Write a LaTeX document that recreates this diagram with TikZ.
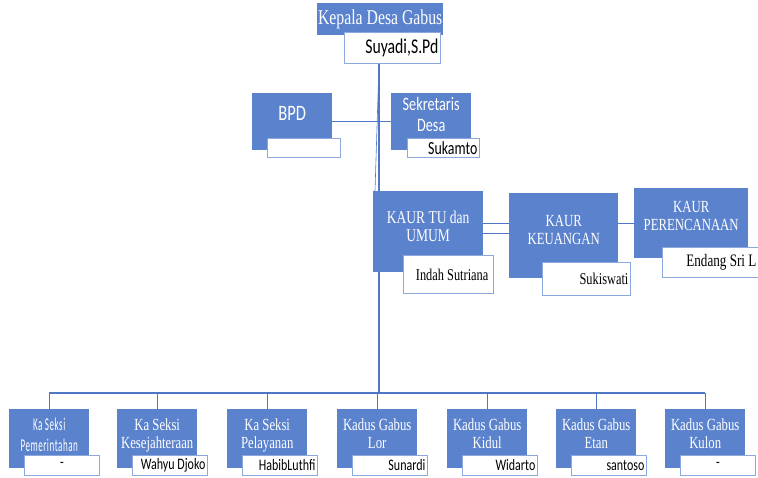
\documentclass[tikz,border=0pt]{standalone}
\usepackage{fontspec}
\newfontfamily\sansc[FakeStretch=0.75]{Carlito}
\newfontfamily\sansn[FakeStretch=0.5, LetterSpace=3]{Carlito}
\newfontfamily\serifc[FakeStretch=0.75]{Liberation Serif}
\definecolor{unitblue}{RGB}{90,130,205}
\definecolor{lineblue}{RGB}{80,118,198}
\definecolor{boxline}{RGB}{140,168,220}
\newcommand\tight{\lineskiplimit=-20pt\lineskip=0pt}
\newcommand\unitserif{\serifc\fontsize{17}{18}\selectfont\tight}
\newcommand\unitnarrow{\sansn\fontsize{18}{21}\selectfont\tight}
\newcommand\namesans{\sansc\fontsize{16}{19}\selectfont}
\newcommand\nameserif{\serifc\fontsize{16.5}{19}\selectfont}

\tikzset{
  unit/.style={fill=unitblue, text=white, inner sep=0pt, anchor=north west, align=center},
  namebox/.style={draw=boxline, fill=white, line width=0.8pt, inner xsep=2pt, inner ysep=0pt, anchor=north west, align=flush right},
  link/.style={draw=lineblue, line width=1.2pt}
}

\begin{document}
\begin{tikzpicture}[x=1pt, y=-1pt]
\useasboundingbox (0,0) rectangle (758,477);

% kepala desa
\node[unit, minimum width=126pt, minimum height=32pt, font=\serifc\fontsize{21}{24}\selectfont] (kades) at (317,3) {Kepala Desa Gabus};
\node[namebox, text width=92pt, minimum height=31pt, font=\sansc\fontsize{21}{24}\selectfont] (suyadi) at (344,32) {Suyadi,S.Pd};

% bpd and sekretaris
\node[unit, minimum width=80pt, minimum height=57pt, text depth=16pt, font=\sansc\fontsize{22}{24}\selectfont] (bpd) at (252,93) {BPD};
\node[namebox, text width=69pt, minimum height=19pt] (bpdname) at (267,138) {};
\node[unit, minimum width=80pt, minimum height=57pt, text depth=14pt, font=\sansc\fontsize{19}{21}\selectfont\tight] (sekr) at (391,93) {Sekretaris\\Desa};
\node[namebox, text width=68pt, minimum height=19pt, font=\sansc\fontsize{18.5}{20}\selectfont] (sekrname) at (407,138) {Sukamto};

% kaur
\node[unit, minimum width=110pt, minimum height=81pt, text depth=11pt, font=\serifc\fontsize{18}{18}\selectfont\tight] (kaurtu) at (373,191) {KAUR TU dan\\UMUM};
\node[namebox, text width=80pt, inner xsep=5pt, minimum height=38pt, font=\nameserif] (tuname) at (403,255) {Indah Sutriana};
\node[unit, minimum width=109pt, minimum height=85pt, text depth=11pt, font=\unitserif] (keu) at (509,193) {KAUR\\KEUANGAN};
\node[namebox, text width=84pt, minimum height=33pt, font=\nameserif] (keuname) at (542,262) {Sukiswati};
\node[unit, minimum width=114pt, minimum height=70pt, text depth=15pt, font=\unitserif] (peren) at (634,188) {KAUR\\PERENCANAAN};
\node[namebox, text width=92pt, minimum height=30pt, font=\serifc\fontsize{17.5}{19}\selectfont] (perenname) at (662,247) {Endang Sri L};

% seksi and kadus
\foreach \i/\x/\f/\d/\title/\who/\wa in {
  1/9/\unitnarrow/8/Ka Seksi\\Pemerintahan/-/flush center,
  2/117/\unitserif/11/Ka Seksi\\Kesejahteraan/Wahyu Djoko/flush right,
  3/227/\unitserif/11/Ka Seksi\\Pelayanan/HabibLuthfi/flush right,
  4/337/\unitserif/11/Kadus Gabus\\Lor/Sunardi/flush right,
  5/447/\unitserif/11/Kadus Gabus\\Kidul/Widarto/flush right,
  6/556/\unitserif/11/Kadus Gabus\\Etan/santoso/flush right,
  7/665/\unitserif/11/Kadus Gabus\\Kulon/-/flush center}
{
  \node[unit, minimum width=80pt, minimum height=59pt, text depth=\d pt, font=\f] (u\i) at (\x,409) {\title};
  \node[namebox, text width=71pt, minimum height=20pt, font=\namesans, align=\wa] (n\i) at (\x+15,455) {\who};
}

\coordinate (bus) at (379,393);

% connectors
\draw[link] (suyadi.south -| bus) -- (kaurtu.north -| bus);
\draw[lineblue, line width=0.6pt] (suyadi.south -| bus) -- ([xshift=-4pt]kaurtu.north -| bus);
\draw[link] (bpd.east) -- (sekr.west);
\draw[link] ([yshift=8.5pt]kaurtu.east) -- ([yshift=8.5pt]kaurtu.east -| keu.west);
\draw[link] ([yshift=-1.5pt]kaurtu.east) -- ([yshift=-1.5pt]kaurtu.east -| keu.west);
\draw[link] ([yshift=8.5pt]kaurtu.east -| keu.east) -- ([yshift=8.5pt]kaurtu.east -| peren.west);
\draw[link] (kaurtu.south -| bus) -- (bus);
\draw[link] (bus -| u1.north) -- (bus -| u7.north);
\foreach \i in {1,...,7}
  \draw[link] (bus -| u\i.north) -- (u\i.north);

\end{tikzpicture}
\end{document}
